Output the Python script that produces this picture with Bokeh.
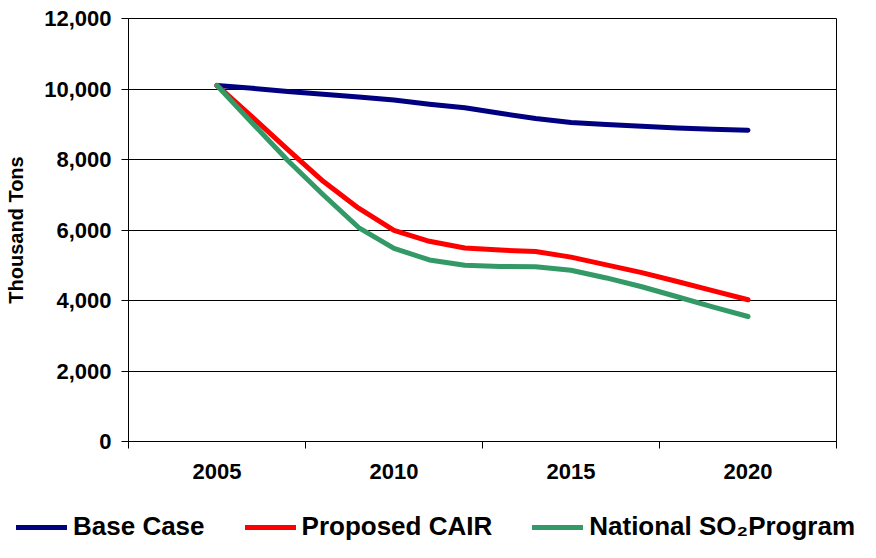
from bokeh.plotting import figure
from bokeh.layouts import column
from bokeh.models import FixedTicker, NumeralTickFormatter, Legend, LegendItem, Range1d
from bokeh.embed import file_html
from bokeh.resources import INLINE

years = list(range(2005, 2021))
base_case = [10100, 10020, 9930, 9850, 9770, 9690, 9570, 9470, 9310, 9165, 9050, 8990, 8940, 8895, 8860, 8830]
proposed_cair = [10100, 9200, 8280, 7380, 6620, 5990, 5680, 5490, 5430, 5390, 5230, 5010, 4790, 4540, 4280, 4020]
national_so2 = [10100, 9030, 7970, 7000, 6070, 5480, 5150, 5000, 4965, 4960, 4860, 4640, 4390, 4107, 3820, 3546]

series_names = ["Base Case", "Proposed CAIR", "National SO\u2082Program"]
series_colors = ["#000080", "#FF0000", "#339966"]
series_values = [base_case, proposed_cair, national_so2]

x_labels = [2005, 2010, 2015, 2020]
x_bounds = [2002.5, 2007.5, 2012.5, 2017.5, 2022.5]
y_ticks = [0, 2000, 4000, 6000, 8000, 10000, 12000]

FONT = "Liberation Sans"

p = figure(width=860, height=498, output_backend="svg", toolbar_location=None,
           x_range=Range1d(2002.5, 2022.5), y_range=Range1d(0, 12000),
           min_border_left=128, min_border_right=24, min_border_top=18, min_border_bottom=57)
p.frame_align = False

p.background_fill_color = "white"
p.border_fill_color = "white"
p.outline_line_color = "black"
p.outline_line_width = 1

p.xgrid.visible = False
p.ygrid.grid_line_color = "black"
p.ygrid.grid_line_width = 1
p.ygrid.ticker = FixedTicker(ticks=y_ticks)

# x axis
p.xaxis.ticker = FixedTicker(ticks=x_labels, minor_ticks=x_bounds)
p.xaxis.major_tick_out = 0
p.xaxis.major_tick_in = 0
p.xaxis.minor_tick_out = 7
p.xaxis.minor_tick_in = 0
p.xaxis.minor_tick_line_color = "black"
p.xaxis.axis_line_color = "black"
p.xaxis.major_label_standoff = 15
p.xaxis.major_label_text_font = FONT
p.xaxis.major_label_text_font_style = "bold"
p.xaxis.major_label_text_font_size = "22px"
p.xaxis.major_label_text_color = "black"

# y axis
p.yaxis.ticker = FixedTicker(ticks=y_ticks)
p.yaxis.formatter = NumeralTickFormatter(format="0,0")
p.yaxis.major_tick_out = 7
p.yaxis.major_tick_in = 0
p.yaxis.minor_tick_out = 0
p.yaxis.minor_tick_in = 0
p.yaxis.axis_line_color = "black"
p.yaxis.major_tick_line_color = "black"
p.yaxis.major_label_standoff = 10
p.yaxis.major_label_text_font = FONT
p.yaxis.major_label_text_font_style = "bold"
p.yaxis.major_label_text_font_size = "22px"
p.yaxis.major_label_text_color = "black"
p.yaxis.axis_label = "Thousand Tons"
p.yaxis.axis_label_text_font = FONT
p.yaxis.axis_label_text_font_style = "bold"
p.yaxis.axis_label_text_font_size = "20px"
p.yaxis.axis_label_text_color = "black"
p.yaxis.axis_label_standoff = 14

for vals, col in zip(series_values, series_colors):
    p.line(years, vals, line_color=col, line_width=5, line_join="round", line_cap="round")

# legend strip below the chart (its proxy lines fall outside its own view)
lg = figure(width=860, height=44, output_backend="svg", toolbar_location=None,
            x_range=Range1d(0, 1), y_range=Range1d(0, 1),
            min_border_left=0, min_border_right=0, min_border_top=0, min_border_bottom=0)
lg.frame_align = False
lg.axis.visible = False
lg.grid.visible = False
lg.outline_line_color = None
lg.background_fill_color = "white"
lg.border_fill_color = "white"

items = []
for name, vals, col in zip(series_names, series_values, series_colors):
    r = lg.line(years, vals, line_color=col, line_width=5, line_cap="round")
    items.append(LegendItem(label=name, renderers=[r]))

legend = Legend(items=items, location=(16, 0), orientation="horizontal",
                glyph_width=51, glyph_height=24, label_standoff=6, spacing=40,
                padding=0, margin=0, border_line_color=None, background_fill_alpha=0,
                label_text_font=FONT, label_text_font_style="bold",
                label_text_font_size="26px", label_text_color="black")
lg.add_layout(legend, "center")

layout = column(p, lg, spacing=0)
open("out.html", "w").write(file_html(layout, INLINE))
